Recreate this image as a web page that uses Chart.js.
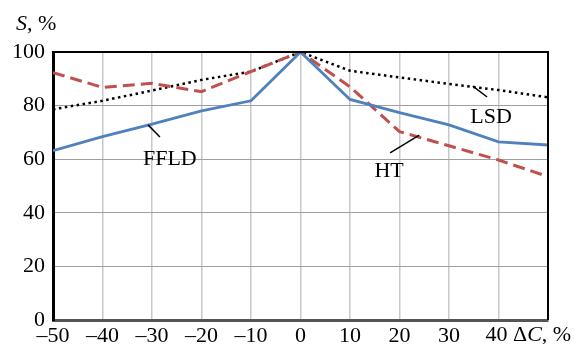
<!DOCTYPE html>
<html>
<head>
<meta charset="utf-8">
<script src="https://cdn.jsdelivr.net/npm/chart.js@4/dist/chart.umd.min.js"></script>
<style>
  html, body { margin: 0; padding: 0; background: #fff; }
  #wrap { width: 574px; height: 344px; }
</style>
</head>
<body>
<div id="wrap"><canvas id="chart"></canvas></div>
<script>
// values
const deltaC = [-50, -40, -30, -20, -10, 0, 10, 20, 30, 40, 50];
const ffld = [63.2, 68.4, 73.1, 78.0, 81.8, 100, 82.3, 77.4, 72.8, 66.5, 65.3];
const ht   = [92.3, 86.8, 88.3, 85.2, 92.7, 100, 87.0, 70.3, 65.0, 59.7, 53.5];
const lsd  = [78.6, 81.8, 85.6, 89.6, 92.7, 100, 93.0, 90.5, 88.1, 85.8, 83.1];
const yTicks = [0, 20, 40, 60, 80, 100];

const serif = '"Liberation Serif", "Times New Roman", serif';

function pts(arr) {
    return deltaC.map((x, i) => ({ x: x, y: arr[i] }));
}

// curve names with their leader lines, in data units
const notes = [
    { text: 'FFLD', x: -26.4, y: 57.8, from: [-30.8, 72.8], to: [-28.4, 68.3] },
    { text: 'LSD', x: 38.5, y: 73.5, from: [34.8, 87.3], to: [37.7, 83.2] },
    { text: 'HT', x: 17.9, y: 53.4, from: [18.1, 62.4], to: [24.0, 69.0] }
];

const extras = {
    id: 'extras',
    afterDraw(chart) {
        const ctx = chart.ctx;
        const xs = chart.scales.x, ys = chart.scales.y;
        const a = chart.chartArea;
        ctx.save();
        // frame top and right
        ctx.strokeStyle = '#000';
        ctx.lineWidth = 2;
        ctx.beginPath();
        ctx.moveTo(a.left, a.top);
        ctx.lineTo(a.right, a.top);
        ctx.lineTo(a.right, a.bottom);
        ctx.stroke();

        ctx.fillStyle = '#000';
        ctx.textBaseline = 'alphabetic';
        ctx.font = '22px ' + serif;
        ctx.lineWidth = 1.5;
        notes.forEach(n => {
            ctx.textAlign = 'center';
            ctx.fillText(n.text, xs.getPixelForValue(n.x), ys.getPixelForValue(n.y));
            ctx.beginPath();
            ctx.moveTo(xs.getPixelForValue(n.from[0]), ys.getPixelForValue(n.from[1]));
            ctx.lineTo(xs.getPixelForValue(n.to[0]), ys.getPixelForValue(n.to[1]));
            ctx.stroke();
        });

        // axis titles
        ctx.textAlign = 'left';
        let x = 16;
        ctx.font = 'italic 22px ' + serif;
        ctx.fillText('S', x, 30);
        x += ctx.measureText('S').width;
        ctx.font = '22px ' + serif;
        ctx.fillText(', %', x, 30);

        // last tick label shares the line with the axis name
        x = xs.getPixelForValue(40) - 13;
        const yb = 341;
        ctx.fillText('40 \u0394', x, yb);
        x += ctx.measureText('40 \u0394').width;
        ctx.font = 'italic 22px ' + serif;
        ctx.fillText('C', x, yb);
        x += ctx.measureText('C').width;
        ctx.font = '22px ' + serif;
        ctx.fillText(', %', x, yb);
        ctx.restore();
    }
};

new Chart(document.getElementById('chart'), {
    type: 'line',
    data: {
        datasets: [{
            label: 'FFLD',
            data: pts(ffld),
            borderColor: '#4f81bd',
            borderWidth: 2.8,
            pointRadius: 0,
            tension: 0
        }, {
            label: 'HT',
            data: pts(ht),
            borderColor: '#c0504d',
            borderWidth: 3,
            borderDash: [12, 6],
            pointRadius: 0,
            tension: 0
        }, {
            label: 'LSD',
            data: pts(lsd),
            borderColor: '#000',
            borderWidth: 2.5,
            borderDash: [2.5, 3.5],
            pointRadius: 0,
            tension: 0
        }]
    },
    options: {
        responsive: true,
        maintainAspectRatio: false,
        animation: false,
        layout: { padding: { top: 52, right: 26, left: 0, bottom: 0 } },
        plugins: {
            legend: { display: false },
            tooltip: { enabled: false }
        },
        scales: {
            x: {
                type: 'linear',
                min: -50,
                max: 50,
                afterFit(scale) { scale.height = 24; },
                afterBuildTicks(scale) {
                    scale.ticks = deltaC.map(v => ({ value: v }));
                },
                grid: {
                    color: '#c8c8c8',
                    lineWidth: 1.5,
                    drawTicks: false
                },
                border: { color: '#555', width: 3 },
                ticks: {
                    padding: 3,
                    color: '#000',
                    font: { family: serif, size: 22 },
                    callback: v => v >= 40 ? '' : (v < 0 ? '\u2013' + Math.abs(v) : String(v))
                }
            },
            y: {
                min: 0,
                max: 100,
                afterFit(scale) { scale.width = 53; },
                grid: {
                    color: '#a0a0a0',
                    lineWidth: 1,
                    drawTicks: false
                },
                border: { color: '#000', width: 3 },
                ticks: {
                    stepSize: 10,
                    padding: 8,
                    color: '#000',
                    font: { family: serif, size: 22 },
                    callback: v => yTicks.includes(v) ? String(v) : ''
                }
            }
        }
    },
    plugins: [extras]
});
</script>
</body>
</html>
